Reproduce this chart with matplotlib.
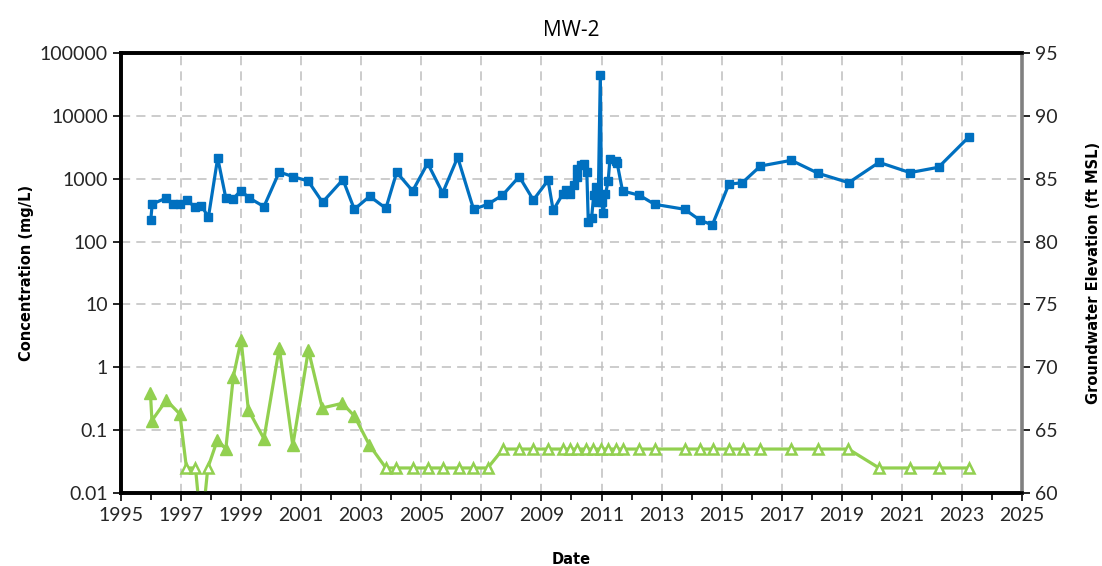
import numpy as np
import matplotlib
matplotlib.use("Agg")
import matplotlib.pyplot as plt
from matplotlib.ticker import FixedLocator, NullFormatter, MultipleLocator

# --- data (decimal year, mg/L) ---
blue_year = [1995.99, 1996.04, 1996.51, 1996.74, 1996.97, 1997.19, 1997.48, 1997.68,
             1997.91, 1998.22, 1998.49, 1998.74, 1998.99, 1999.27, 1999.76, 2000.27,
             2000.72, 2001.23, 2001.71, 2002.39, 2002.77, 2003.28, 2003.82, 2004.18,
             2004.71, 2005.21, 2005.71, 2006.21, 2006.74, 2007.21, 2007.70, 2008.26,
             2008.73, 2009.22, 2009.39, 2009.71, 2009.83, 2009.96, 2010.09, 2010.17,
             2010.19, 2010.30, 2010.41, 2010.51, 2010.56, 2010.67, 2010.74, 2010.83,
             2010.89, 2010.96, 2011.00, 2011.06, 2011.13, 2011.22, 2011.28, 2011.47,
             2011.52, 2011.70, 2012.26, 2012.77, 2013.77, 2014.27, 2014.69, 2015.24,
             2015.69, 2016.29, 2017.32, 2018.21, 2019.23, 2020.24, 2021.27, 2022.22,
             2023.23]
blue_conc = [220, 396, 493, 391, 391, 453, 350, 372,
             243, 2140, 493, 482, 645, 493, 360, 1280,
             1080, 920, 422, 966, 326, 525, 338, 1265,
             638, 1760, 593, 2190, 326, 391, 545, 1080,
             458, 944, 314, 571, 653, 578, 785, 1050,
             1410, 1670, 1700, 1265, 202, 240, 551, 746,
             431, 44700, 431, 281, 565, 910, 2060, 1915,
             1760, 638, 545, 391, 326, 220, 184, 815,
             865, 1590, 1960, 1220, 865, 1820, 1250, 1520,
             4610]

green_year = [1995.98, 1996.03, 1996.51, 1996.96, 1997.18, 1997.48, 1997.68, 1997.89,
              1998.21, 1998.49, 1998.74, 1999.00, 1999.24, 1999.76, 2000.27, 2000.72,
              2001.24, 2001.70, 2002.37, 2002.77, 2003.27, 2003.82, 2004.17, 2004.71,
              2005.21, 2005.72, 2006.26, 2006.72, 2007.21, 2007.72, 2008.26, 2008.72,
              2009.22, 2009.71, 2009.96, 2010.19, 2010.48, 2010.73, 2010.97, 2011.22,
              2011.49, 2011.71, 2012.26, 2012.78, 2013.77, 2014.27, 2014.70, 2015.24,
              2015.72, 2016.29, 2017.31, 2018.21, 2019.22, 2020.24, 2021.27, 2022.23,
              2023.22]
green_conc = [0.39, 0.142, 0.30, 0.18, 0.025, 0.025, 0.0025, 0.025,
              0.07, 0.05, 0.71, 2.7, 0.21, 0.073, 2.05, 0.057,
              1.88, 0.225, 0.267, 0.168, 0.058, 0.025, 0.025, 0.025,
              0.025, 0.025, 0.025, 0.025, 0.025, 0.05, 0.05, 0.05,
              0.05, 0.05, 0.05, 0.05, 0.05, 0.05, 0.05, 0.05,
              0.05, 0.05, 0.05, 0.05, 0.05, 0.05, 0.05, 0.05,
              0.05, 0.05, 0.05, 0.05, 0.05, 0.025, 0.025, 0.025,
              0.025]
# 1 = detected (filled marker), 0 = non-detect (open marker)
green_detect = [1, 1, 1, 1, 0, 0, 0, 0,
                1, 1, 1, 1, 1, 1, 1, 1,
                1, 1, 1, 1, 1, 0, 0, 0,
                0, 0, 0, 0, 0, 0, 0, 0,
                0, 0, 0, 0, 0, 0, 0, 0,
                0, 0, 0, 0, 0, 0, 0, 0,
                0, 0, 0, 0, 0, 0, 0, 0,
                0]

year_ticks = list(range(1995, 2026, 2))
conc_ticks = [0.01, 0.1, 1, 10, 100, 1000, 10000, 100000]
conc_labels = ["0.01", "0.1", "1", "10", "100", "1000", "10000", "100000"]
elev_ticks = list(range(60, 96, 5))

blue = "#0070C0"
green = "#92D050"
tickfont = ["Lato", "DejaVu Sans"]

fig = plt.figure(figsize=(11.02, 5.66), dpi=100)
ax = fig.add_axes([0.1098, 0.129, 0.8176, 0.7774])
ax2 = ax.twinx()

ax.set_yscale("log")
ax.set_ylim(0.01, 100000)
ax.set_xlim(1995, 2025)

ax.grid(True, which="major", color="#BFBFBF", ls=(0, (6, 4)), lw=1.1)
ax.set_axisbelow(True)

ax.plot(blue_year, blue_conc, color=blue, lw=2.3, marker="s", ms=6,
        mfc=blue, mec=blue, zorder=3)

gy = np.array(green_year)
gc = np.array(green_conc)
gd = np.array(green_detect, dtype=bool)
ax.plot(gy, gc, color=green, lw=2.3, zorder=3)
ax.plot(gy[gd], gc[gd], ls="none", marker="^", ms=8, mfc=green, mec=green, zorder=4)
ax.plot(gy[~gd], gc[~gd], ls="none", marker="^", ms=7, mfc="white", mec=green,
        mew=1.8, zorder=4)

ax.yaxis.set_major_locator(FixedLocator(conc_ticks))
ax.set_yticklabels(conc_labels)
ax.yaxis.set_minor_formatter(NullFormatter())
ax.yaxis.set_minor_locator(FixedLocator([]))
ax.set_xticks(year_ticks)
ax.xaxis.set_minor_locator(MultipleLocator(1))

ax.tick_params(axis="both", which="major", direction="out", length=6, width=1.2,
               labelsize=14, colors="black")
ax.tick_params(axis="x", which="minor", direction="out", length=5, width=1.2)
ax.tick_params(axis="x", pad=4)

ax2.set_ylim(60, 95)
ax2.set_yticks(elev_ticks)
ax2.tick_params(axis="y", direction="out", length=6, width=1.2, labelsize=14,
                colors="black")

for a in (ax, ax2):
    for lab in a.get_xticklabels() + a.get_yticklabels():
        lab.set_fontfamily(tickfont)
        lab.set_color("#262626")

for s in ("left", "bottom", "top"):
    ax.spines[s].set_linewidth(2.6)
    ax.spines[s].set_color("black")
    ax2.spines[s].set_linewidth(2.6)
    ax2.spines[s].set_color("black")
ax2.spines["right"].set_linewidth(2.6)
ax2.spines["right"].set_color("#808080")
ax.spines["right"].set_visible(False)

ax.set_ylabel("Concentration (mg/L)", fontsize=10.5, fontweight="bold", labelpad=4)
ax.set_xlabel("Date", fontsize=10.5, fontweight="bold", labelpad=20)
ax2.set_ylabel("Groundwater Elevation (ft MSL)", fontsize=10.5, fontweight="bold",
               labelpad=20)
ax.set_title("MW-2", fontsize=15, pad=12, fontfamily=["Open Sans", "DejaVu Sans"])

fig.savefig("out.png", dpi=100)
